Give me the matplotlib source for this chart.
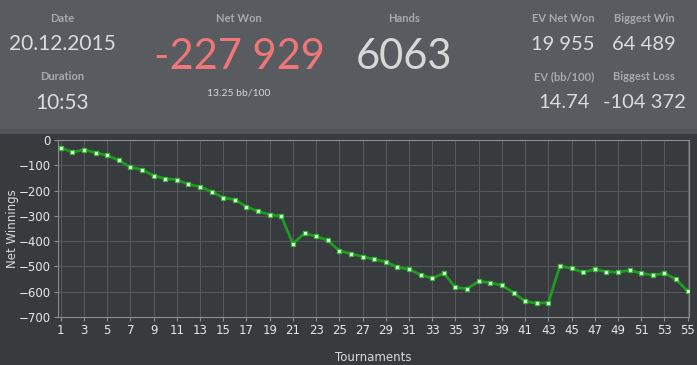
import matplotlib
matplotlib.use("Agg")
import matplotlib.pyplot as plt
from matplotlib.patches import Rectangle

# data
tournaments = list(range(1, 56))
net_winnings = [
    -30, -49, -38, -50, -61, -80, -108, -117, -141, -153,
    -157, -175, -185, -204, -228, -236, -264, -282, -295, -302,
    -410, -369, -381, -397, -438, -450, -461, -472, -481, -504,
    -511, -533, -547, -527, -583, -588, -559, -564, -575, -604,
    -638, -646, -643, -497, -508, -523, -511, -521, -523, -515,
    -527, -535, -527, -551, -598,
]
x_ticks = list(range(1, 56, 2))
y_ticks = list(range(-700, 1, 100))

# header stats: (label, value, x px, label y px, value y px, size, colour)
stats = [
    ("Date", "20.12.2015", 62, 18, 44, 15, "#dcdcdc"),
    ("Duration", "10:53", 62, 77, 103, 15, "#dcdcdc"),
    ("Net Won", "-227 929", 239, 18, 57, 30, "#f07777"),
    ("Hands", "6063", 404, 18, 57, 30, "#d8d8d8"),
    ("EV Net Won", "19 955", 563, 18, 44, 14.5, "#dcdcdc"),
    ("Biggest Win", "64 489", 644, 18, 44, 14.5, "#dcdcdc"),
    ("EV (bb/100)", "14.74", 564, 77, 103, 14.5, "#dcdcdc"),
    ("Biggest Loss", "-104 372", 644, 77, 103, 14.5, "#dcdcdc"),
]

W, H = 697, 365
fig = plt.figure(figsize=(W / 100, H / 100), dpi=100, facecolor="#383b3e")

def fx(px):
    return px / W

def fy(py):
    return 1 - py / H

# header panel
fig.patches.append(Rectangle((0, fy(134)), 1, 134 / H, transform=fig.transFigure,
                             facecolor="#585b5f", edgecolor="none", zorder=0))
fig.patches.append(Rectangle((0, fy(134)), 1, 5 / H, transform=fig.transFigure,
                             facecolor="#505357", edgecolor="none", zorder=0))

head_font = "Lato"
for label, value, x, ly, vy, size, col in stats:
    fig.text(fx(x), fy(ly), label, ha="center", va="center", fontsize=8,
             color="#a8aaac", family=head_font, fontweight="bold")
    fig.text(fx(x), fy(vy), value, ha="center", va="center", fontsize=size,
             color=col, family=head_font)
fig.text(fx(239), fy(93), "13.25 bb/100", ha="center", va="center", fontsize=7.5,
         color="#d6d6d6", family=head_font)

# chart
ax = fig.add_axes([fx(58), fy(317), fx(689) - fx(58), (317 - 140) / H])
ax.set_facecolor("#383b3e")
ax.plot(tournaments, net_winnings, color="#1f9a22", linewidth=2, zorder=3)
ax.scatter(tournaments, net_winnings, s=12, marker="s", facecolor="white",
           edgecolor="#2ec02e", linewidths=0.9, zorder=4)

ax.set_xlim(0.77, 55.11)
ax.set_ylim(-700, 0)
ax.set_xticks(x_ticks)
ax.set_yticks(y_ticks)
ax.grid(True, color="#55585b", linewidth=0.8)
ax.set_axisbelow(True)
for s in ax.spines.values():
    s.set_color("#8a8c8e")
ax.tick_params(colors="#8a8c8e", labelcolor="#e6e6e6", labelsize=8.5, length=3, pad=2)
ax.set_xlabel("Tournaments", color="#dadada", fontsize=8.5, labelpad=10)
ax.set_ylabel("Net Winnings", color="#dadada", fontsize=8.5, labelpad=0)

fig.savefig("out.png", dpi=100, facecolor=fig.get_facecolor())
